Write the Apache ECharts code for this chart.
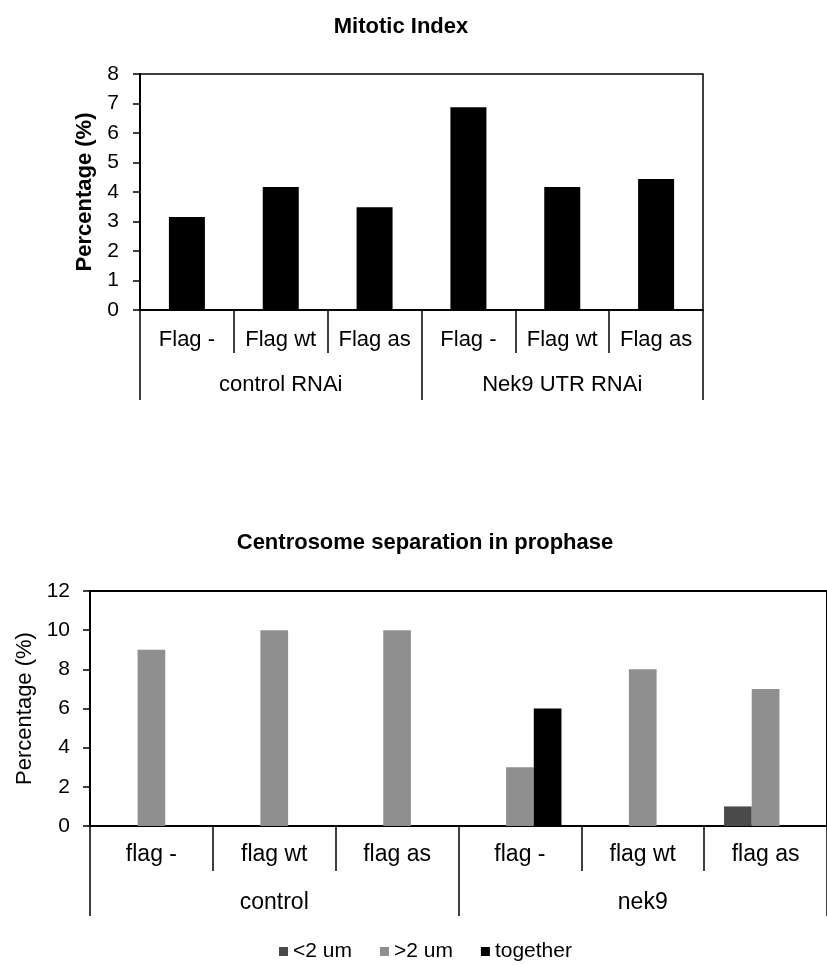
<!DOCTYPE html>
<html>
<head>
<meta charset="utf-8">
<script src="https://cdn.jsdelivr.net/npm/echarts@6/dist/echarts.min.js"></script>
<style>html,body{margin:0;padding:0;background:#fff}#c{width:827px;height:965px}</style>
</head>
<body>
<div id="c"></div>
<script>
// ---- data ----
const topCategories = ['Flag -', 'Flag wt', 'Flag as', 'Flag -', 'Flag wt', 'Flag as'];
const topGroups = ['control RNAi', 'Nek9 UTR RNAi'];
const mitoticIndex = [3.15, 4.17, 3.48, 6.87, 4.17, 4.44];

const botCategories = ['flag -', 'flag wt', 'flag as', 'flag -', 'flag wt', 'flag as'];
const botGroups = ['control', 'nek9'];
const lessThan2um = [0, 0, 0, 0, 0, 1];
const moreThan2um = [9, 10, 10, 3, 8, 7];
const together = [0, 0, 0, 6, 0, 0];

const FONT = 'Liberation Sans, Arial, sans-serif';
const chart = echarts.init(document.getElementById('c'));

function catAxis(grid, data, tickLen, margin, size, showLine) {
  return {
    type: 'category', gridIndex: grid, data: data, position: 'bottom',
    axisLine: { show: showLine, lineStyle: { color: '#000', width: 2 } },
    axisTick: { show: true, alignWithLabel: false, length: tickLen, lineStyle: { color: '#000', width: 1.5 } },
    axisLabel: { margin: margin, fontSize: size, color: '#000', fontFamily: FONT, interval: 0 },
    splitLine: { show: false }
  };
}

chart.setOption({
  animation: false,
  backgroundColor: '#fff',
  title: [
    { text: 'Mitotic Index', left: 396, top: 11, textAlign: 'center',
      textStyle: { fontSize: 22, fontWeight: 'bold', color: '#000', fontFamily: FONT } },
    { text: 'Centrosome separation in prophase', left: 420, top: 527, textAlign: 'center',
      textStyle: { fontSize: 22, fontWeight: 'bold', color: '#000', fontFamily: FONT } }
  ],
  legend: {
    data: ['<2 um', '>2 um', 'together'],
    left: 274, top: 936, itemWidth: 9, itemHeight: 9, itemGap: 28,
    icon: 'rect',
    textStyle: { fontSize: 21, color: '#000', fontFamily: FONT }
  },
  grid: [
    { left: 140, top: 74, width: 563, height: 236, show: true, borderColor: '#000', borderWidth: 1.5, containLabel: false },
    { left: 90, top: 591, width: 747, height: 235, show: true, borderColor: '#000', borderWidth: 2, containLabel: false }
  ],
  xAxis: [
    catAxis(0, topCategories, 43, 19, 22, true),
    catAxis(0, topGroups, 90, 64, 22, false),
    catAxis(1, botCategories, 45, 17, 23, true),
    catAxis(1, botGroups, 90, 65, 23, false)
  ],
  yAxis: [
    { type: 'value', gridIndex: 0, min: 0, max: 8, interval: 1,
      axisLine: { show: true, lineStyle: { color: '#000', width: 2 } },
      axisTick: { show: true, length: 7, lineStyle: { color: '#000', width: 1.5 } },
      axisLabel: { margin: 21, fontSize: 21, color: '#000', fontFamily: FONT },
      splitLine: { show: false },
      name: 'Percentage (%)', nameLocation: 'middle', nameGap: 44, nameRotate: 90,
      nameTextStyle: { fontSize: 22, fontWeight: 'bold', color: '#000', fontFamily: FONT } },
    { type: 'value', gridIndex: 1, min: 0, max: 12, interval: 2,
      axisLine: { show: true, lineStyle: { color: '#000', width: 2 } },
      axisTick: { show: true, length: 7, lineStyle: { color: '#000', width: 1.5 } },
      axisLabel: { margin: 20, fontSize: 21, color: '#000', fontFamily: FONT },
      splitLine: { show: false },
      name: 'Percentage (%)', nameLocation: 'middle', nameGap: 54, nameRotate: 90,
      nameTextStyle: { fontSize: 22, color: '#000', fontFamily: FONT } }
  ],
  series: [
    { name: 'Mitotic Index', type: 'bar', xAxisIndex: 0, yAxisIndex: 0, data: mitoticIndex,
      barWidth: 36, itemStyle: { color: '#000' } },
    { name: '<2 um', type: 'bar', xAxisIndex: 2, yAxisIndex: 1, data: lessThan2um,
      barWidth: 27.7, barGap: '0%', itemStyle: { color: '#4a4a4a' } },
    { name: '>2 um', type: 'bar', xAxisIndex: 2, yAxisIndex: 1, data: moreThan2um,
      barWidth: 27.7, barGap: '0%', itemStyle: { color: '#8f8f8f' } },
    { name: 'together', type: 'bar', xAxisIndex: 2, yAxisIndex: 1, data: together,
      barWidth: 27.7, barGap: '0%', itemStyle: { color: '#000' } }
  ]
});
</script>
</body>
</html>
